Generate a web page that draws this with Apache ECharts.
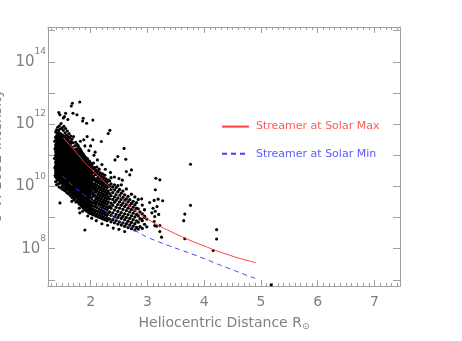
<!DOCTYPE html>
<html lang="en">
<head>
<meta charset="UTF-8">
<title>O VI 1032 Intensity</title>
<script src="https://cdn.jsdelivr.net/npm/echarts@6/dist/echarts.min.js"></script>
<style>
  html, body { margin: 0; padding: 0; background: #fff; }
  #chart { width: 462px; height: 341px; }
</style>
</head>
<body>
<div id="chart"></div>
<script>
// observed intensities, grouped by distance: [r, [log10 I, ...]]
// dense core of the cloud
var obsCore = [
  [1.390, [10.31, 10.43, 10.52, 10.66, 10.77, 10.88, 11.0, 11.11, 11.24, 11.33, 11.46, 11.58]],
  [1.415, [10.26, 10.37, 10.49, 10.6, 10.71, 10.84, 10.93, 11.06, 11.18, 11.29, 11.41, 11.53, 11.66]],
  [1.440, [10.21, 10.34, 10.45, 10.56, 10.68, 10.79, 10.91, 11.03, 11.14, 11.26, 11.37, 11.5, 11.61, 11.72]],
  [1.465, [10.18, 10.29, 10.41, 10.53, 10.64, 10.76, 10.87, 10.99, 11.1, 11.22, 11.34, 11.45, 11.57, 11.69]],
  [1.490, [10.14, 10.26, 10.38, 10.49, 10.61, 10.72, 10.84, 10.95, 11.07, 11.19, 11.3, 11.42, 11.54, 11.65]],
  [1.515, [10.1, 10.22, 10.33, 10.45, 10.57, 10.68, 10.8, 10.91, 11.03, 11.15, 11.26, 11.38, 11.5, 11.62]],
  [1.540, [10.07, 10.18, 10.3, 10.42, 10.53, 10.65, 10.77, 10.88, 11.0, 11.11, 11.23, 11.35, 11.46, 11.57]],
  [1.565, [10.02, 10.14, 10.26, 10.37, 10.49, 10.61, 10.72, 10.84, 10.96, 11.07, 11.19, 11.3, 11.42, 11.53]],
  [1.590, [9.98, 10.1, 10.21, 10.33, 10.45, 10.56, 10.68, 10.8, 10.91, 11.03, 11.15, 11.26, 11.38, 11.49]],
  [1.615, [9.94, 10.05, 10.17, 10.29, 10.4, 10.52, 10.64, 10.75, 10.87, 10.99, 11.1, 11.22, 11.34, 11.44]],
  [1.640, [9.89, 10.01, 10.13, 10.24, 10.36, 10.48, 10.59, 10.71, 10.83, 10.94, 11.06, 11.18, 11.29, 11.38]],
  [1.665, [9.85, 9.96, 10.08, 10.2, 10.31, 10.43, 10.55, 10.66, 10.78, 10.9, 11.01, 11.13, 11.25]],
  [1.690, [9.8, 9.92, 10.04, 10.15, 10.27, 10.39, 10.5, 10.62, 10.74, 10.85, 10.97, 11.09, 11.19]],
  [1.715, [9.76, 9.87, 9.99, 10.11, 10.22, 10.34, 10.46, 10.57, 10.69, 10.81, 10.92, 11.04, 11.13]],
  [1.740, [9.71, 9.83, 9.95, 10.06, 10.18, 10.3, 10.41, 10.53, 10.65, 10.76, 10.88, 10.99, 11.07]],
  [1.765, [9.67, 9.78, 9.9, 10.02, 10.13, 10.25, 10.37, 10.48, 10.6, 10.72, 10.83, 10.95, 11.02]],
  [1.778, [9.52, 9.66, 9.79, 9.93, 10.05, 10.21, 10.33, 10.47, 10.6, 10.74, 10.86, 11.01, 11.15, 11.3]],
  [1.796, [9.47, 9.58, 9.74, 9.87, 9.99, 10.14, 10.27, 10.42, 10.53, 10.69, 10.81, 10.95, 11.08, 11.22]],
  [1.814, [9.43, 9.55, 9.69, 9.83, 9.96, 10.08, 10.24, 10.36, 10.5, 10.63, 10.77, 10.9, 11.04, 11.19]],
  [1.832, [9.4, 9.52, 9.66, 9.78, 9.92, 10.04, 10.18, 10.31, 10.44, 10.58, 10.72, 10.85, 10.98, 11.12]],
  [1.850, [9.36, 9.49, 9.61, 9.75, 9.87, 10.01, 10.13, 10.27, 10.4, 10.53, 10.67, 10.8, 10.93, 11.07]],
  [1.868, [9.33, 9.45, 9.57, 9.71, 9.84, 9.97, 10.1, 10.22, 10.36, 10.49, 10.62, 10.75, 10.88, 11.03]],
  [1.886, [9.3, 9.42, 9.55, 9.68, 9.8, 9.93, 10.06, 10.19, 10.32, 10.45, 10.58, 10.71, 10.84, 10.97]],
  [1.904, [9.27, 9.39, 9.51, 9.64, 9.77, 9.9, 10.02, 10.15, 10.28, 10.41, 10.54, 10.66, 10.8, 10.93]],
  [1.922, [9.24, 9.36, 9.48, 9.61, 9.74, 9.86, 9.99, 10.12, 10.24, 10.37, 10.5, 10.62, 10.76]],
  [1.940, [9.21, 9.33, 9.46, 9.58, 9.71, 9.83, 9.96, 10.08, 10.21, 10.34, 10.46, 10.59, 10.72, 10.88]],
  [1.958, [9.19, 9.31, 9.43, 9.55, 9.68, 9.8, 9.93, 10.05, 10.18, 10.3, 10.43, 10.55, 10.68]],
  [1.976, [9.16, 9.28, 9.4, 9.53, 9.65, 9.77, 9.9, 10.02, 10.14, 10.27, 10.39, 10.52, 10.64, 10.8]],
  [1.994, [9.14, 9.26, 9.38, 9.5, 9.62, 9.75, 9.87, 9.99, 10.11, 10.24, 10.36, 10.48, 10.61, 10.74]]
];

// looser part of the cloud
var obsOuter = [
  [2.012, [9.12, 9.3, 9.49, 9.63, 9.85, 10.02, 10.15, 10.37, 10.52, 10.7]],
  [2.031, [9.2, 9.38, 9.55, 9.76, 9.92, 10.1, 10.28, 10.45, 10.63]],
  [2.05, [9.09, 9.26, 9.47, 9.68, 9.8, 10.0, 10.21, 10.33, 10.56, 10.75]],
  [2.07, [9.15, 9.35, 9.52, 9.71, 9.9, 10.07, 10.25, 10.44, 10.6]],
  [2.09, [9.05, 9.22, 9.43, 9.6, 9.82, 9.97, 10.16, 10.38, 10.51]],
  [2.11, [9.11, 9.31, 9.5, 9.66, 9.86, 10.04, 10.22, 10.41, 10.62]],
  [2.13, [9.02, 9.19, 9.39, 9.57, 9.74, 9.93, 10.12, 10.29, 10.47]],
  [2.15, [9.08, 9.27, 9.45, 9.63, 9.81, 9.99, 10.18, 10.36, 10.55]],
  [2.17, [8.99, 9.16, 9.35, 9.53, 9.7, 9.89, 10.08, 10.25, 10.43]],
  [2.19, [9.05, 9.23, 9.42, 9.6, 9.78, 9.96, 10.14, 10.32]],
  [2.21, [8.96, 9.13, 9.31, 9.49, 9.67, 9.85, 10.03, 10.21, 10.4]],
  [2.23, [9.02, 9.2, 9.38, 9.56, 9.74, 9.92, 10.1, 10.28]],
  [2.25, [8.93, 9.1, 9.28, 9.46, 9.64, 9.82, 9.99, 10.17, 10.36]],
  [2.27, [8.99, 9.17, 9.35, 9.53, 9.71, 9.88, 10.06, 10.24]],
  [2.29, [8.9, 9.07, 9.25, 9.43, 9.61, 9.78, 9.96, 10.13]],
  [2.31, [8.96, 9.14, 9.32, 9.5, 9.67, 9.85, 10.03, 10.2]],
  [2.335, [8.95, 9.18, 9.36, 9.6, 9.77, 10.0, 10.18]],
  [2.36, [8.86, 9.07, 9.3, 9.46, 9.7, 9.9, 10.08, 10.28]],
  [2.39, [8.93, 9.15, 9.39, 9.58, 9.8, 9.98]],
  [2.42, [8.83, 9.02, 9.24, 9.49, 9.66, 9.88, 10.05]],
  [2.45, [8.9, 9.1, 9.33, 9.55, 9.74, 9.96]],
  [2.48, [8.79, 9.0, 9.2, 9.42, 9.62, 9.83, 10.02]],
  [2.51, [8.86, 9.08, 9.3, 9.5, 9.7, 9.9]],
  [2.54, [8.76, 8.97, 9.16, 9.39, 9.58, 9.78, 10.05]],
  [2.57, [8.83, 9.04, 9.26, 9.46, 9.65, 9.85]],
  [2.60, [8.72, 8.93, 9.12, 9.35, 9.55, 9.73]],
  [2.63, [8.8, 9.0, 9.22, 9.42, 9.6, 9.92]],
  [2.66, [8.68, 8.88, 9.09, 9.3, 9.5, 9.68]],
  [2.69, [8.76, 8.97, 9.18, 9.38, 9.57]],
  [2.72, [8.64, 8.84, 9.05, 9.26, 9.45, 9.75]],
  [2.75, [8.72, 8.93, 9.14, 9.33, 9.52]],
  [2.78, [8.6, 8.8, 9.02, 9.22, 9.41, 9.66]],
  [2.81, [8.68, 8.89, 9.1, 9.3, 9.48]],
  [2.84, [8.63, 8.85, 9.05, 9.28, 9.58]],
  [2.87, [8.71, 8.96, 9.18]],
  [2.91, [8.65, 8.9, 9.12, 9.4]],
  [2.95, [8.78, 9.04, 9.25]],
  [2.99, [8.7, 8.95]]
];

// isolated points and cloud edges: [r, log10 I]
var obsSparse = [
  [1.385, 11.75], [1.40, 11.82], [1.42, 11.9], [1.435, 11.8], [1.45, 11.95], [1.47, 11.85],
  [1.48, 12.02], [1.50, 11.88], [1.52, 11.8], [1.53, 11.93], [1.55, 11.72], [1.56, 11.86],
  [1.575, 11.65], [1.59, 11.78], [1.60, 11.6], [1.62, 11.7], [1.635, 11.55], [1.65, 11.62],
  [1.66, 11.45], [1.675, 11.52], [1.69, 11.4], [1.70, 11.6], [1.72, 11.3], [1.735, 11.42],
  [1.75, 11.2], [1.76, 11.35],
  [1.385, 10.15], [1.40, 10.05], [1.41, 10.2], [1.43, 10.08], [1.445, 9.98], [1.46, 10.1],
  [1.475, 9.95], [1.50, 10.02], [1.51, 9.9], [1.53, 9.97], [1.545, 9.86], [1.56, 9.92],
  [1.58, 9.8], [1.595, 9.88], [1.61, 9.76], [1.63, 9.82], [1.645, 9.7], [1.66, 9.75],
  [1.675, 9.64], [1.69, 9.68], [1.705, 9.57], [1.725, 9.62], [1.74, 9.5], [1.76, 9.55],
  [1.37, 10.6], [1.365, 10.9], [1.372, 11.2], [1.375, 10.35], [1.368, 11.45],
  [1.82, 11.45], [1.90, 11.3], [1.97, 11.15], [2.06, 11.0], [2.12, 10.85], [2.20, 10.7],
  [2.26, 10.55], [2.35, 10.45], [2.42, 10.3], [2.50, 10.25], [2.56, 10.2],
  [1.80, 9.3], [1.86, 9.2], [1.95, 9.05], [2.02, 8.98], [2.10, 8.9], [2.20, 8.8],
  [2.30, 8.75], [2.40, 8.66], [2.50, 8.62], [2.60, 8.55],
  [1.66, 12.58], [1.68, 12.67], [1.81, 12.71], [1.44, 12.37], [1.54, 12.24],
  [1.69, 12.35], [1.87, 12.19], [2.04, 12.13], [1.93, 12.03], [2.19, 11.44],
  [2.31, 11.7], [2.34, 11.8], [2.48, 10.96], [2.59, 11.22], [2.43, 10.85],
  [2.62, 10.87], [2.72, 10.53], [2.63, 10.48], [2.69, 10.37], [1.56, 12.35],
  [1.76, 12.3], [1.86, 12.1], [1.94, 11.6], [2.04, 11.5], [2.0, 11.3],
  [1.60, 12.15], [1.52, 12.2], [1.46, 12.3], [1.88, 11.5], [2.08, 11.1],
  [3.76, 10.71], [3.76, 9.39], [3.66, 9.11], [3.64, 8.9], [3.66, 8.32],
  [4.22, 8.61], [4.22, 8.31], [4.16, 7.94],
  [3.15, 10.26], [3.22, 10.21], [3.14, 9.89], [2.90, 9.6], [3.04, 9.48],
  [3.12, 9.55], [3.19, 9.59], [3.27, 9.54], [3.10, 9.3], [3.14, 9.2],
  [3.17, 9.35], [3.20, 9.1], [3.08, 9.15], [3.13, 9.03], [3.12, 8.87],
  [3.13, 8.74], [3.16, 8.72], [3.22, 8.74], [3.22, 8.55], [3.25, 8.37],
  [2.90, 8.95], [2.95, 9.0], [1.46, 9.47], [1.67, 9.52], [1.81, 9.15],
  [1.90, 8.6], [2.04, 9.09], [5.18, 6.84]
];

// model curves
var maxR   = [1.52, 1.6, 1.7, 1.8, 1.9, 2.0, 2.2, 2.4, 2.6, 2.8, 3.0, 3.2, 3.4, 3.6, 3.8, 4.0, 4.2, 4.4, 4.6, 4.8, 4.91];
var maxLog = [11.57, 11.40, 11.19, 10.97, 10.76, 10.58, 10.22, 9.87, 9.52, 9.20, 8.95, 8.74, 8.56, 8.39, 8.23, 8.09, 7.94, 7.82, 7.70, 7.60, 7.55];
var minR   = [1.50, 1.6, 1.7, 1.8, 1.9, 2.0, 2.2, 2.4, 2.6, 2.8, 3.0, 3.2, 3.4, 3.6, 3.8, 4.0, 4.2, 4.4, 4.6, 4.8, 4.9];
var minLog = [10.34, 10.17, 10.00, 9.85, 9.71, 9.58, 9.29, 9.02, 8.78, 8.56, 8.37, 8.22, 8.08, 7.95, 7.82, 7.68, 7.53, 7.39, 7.25, 7.11, 7.05];

// axis ticks
var xMajor = [2, 3, 4, 5, 6, 7];
var xMinor = [];
for (var k = 13; k <= 74; k++) xMinor.push(k / 10);
var yTicks = [1e7, 1e8, 1e9, 1e10, 1e11, 1e12, 1e13, 1e14, 1e15];
var yLabels = [1e8, 1e10, 1e12, 1e14];

var gray = '#808080';
var lineGray = '#a0a0a0';
var font = 'DejaVu Sans';

function columnsToPoints(cols) {
    var out = [];
    cols.forEach(function (col) {
        col[1].forEach(function (lg) { out.push([col[0], Math.pow(10, lg)]); });
    });
    return out;
}

function curve(rs, logs) {
    return rs.map(function (r, i) { return [r, Math.pow(10, logs[i])]; });
}

function xAxisDef(pos, ticks, len, labels) {
    return {
        type: 'value', position: pos, min: 1.25, max: 7.45,
        axisLine: { show: true, lineStyle: { color: lineGray } },
        splitLine: { show: false },
        axisTick: { show: true, inside: true, length: len, customValues: ticks, lineStyle: { color: lineGray } },
        axisLabel: labels ? {
            show: true, customValues: labels, margin: 9, color: gray,
            fontSize: 14, fontFamily: font
        } : { show: false }
    };
}

function yAxisDef(pos, labels) {
    return {
        type: 'log', logBase: 10, position: pos,
        min: Math.pow(10, 6.8), max: Math.pow(10, 15.12),
        axisLine: { show: true, lineStyle: { color: lineGray } },
        splitLine: { show: false },
        minorTick: { show: false },
        axisTick: { show: true, inside: true, length: 7, customValues: yTicks, lineStyle: { color: lineGray } },
        axisLabel: labels ? {
            show: true, customValues: yLabels, margin: 2,
            formatter: function (v) {
                return '{b|10}{s|' + Math.round(Math.log10(v)) + '}';
            },
            rich: {
                b: { fontSize: 15, color: gray, fontFamily: font, padding: [7, 0, 7, 0] },
                s: { fontSize: 9, color: gray, fontFamily: font, verticalAlign: 'top', lineHeight: 11 }
            }
        } : { show: false }
    };
}

function dots(name, data, size) {
    return {
        name: name, type: 'scatter', xAxisIndex: 0, yAxisIndex: 0,
        symbol: 'circle', symbolSize: size,
        itemStyle: { color: '#000', opacity: 1 },
        data: data, z: 2
    };
}

var chart = echarts.init(document.getElementById('chart'), null, { renderer: 'canvas' });

var yLeft = yAxisDef('left', true);
yLeft.name = 'O VI 1032 Intensity';
yLeft.nameLocation = 'middle';
yLeft.nameGap = 37;
yLeft.nameTextStyle = { color: gray, fontSize: 14, fontFamily: font };

var xMain = xAxisDef('bottom', xMajor, 6, xMajor);
xMain.name = '{t|Heliocentric Distance R}{o|\u2299}';
xMain.nameLocation = 'middle';
xMain.nameGap = 30;
xMain.nameTextStyle = {
    rich: {
        t: { color: gray, fontSize: 14, fontFamily: font },
        o: { color: gray, fontSize: 9, fontFamily: font, padding: [6, 0, 0, 0] }
    }
};

chart.setOption({
    animation: false,
    backgroundColor: '#fff',
    grid: { left: 48, right: 62, top: 27, bottom: 55, containLabel: false, outerBoundsMode: 'none' },
    legend: {
        orient: 'vertical', left: 216, top: 116,
        itemWidth: 27, itemHeight: 14, itemGap: 16,
        itemStyle: { opacity: 0 },
        textStyle: { fontSize: 11, fontFamily: font, padding: [0, 0, 0, 2] },
        data: [
            { name: 'Streamer at Solar Max', textStyle: { color: '#ff5a5a' } },
            { name: 'Streamer at Solar Min', textStyle: { color: '#5a5aff' } }
        ]
    },
    xAxis: [
        xMain,
        xAxisDef('bottom', xMinor, 3, null),
        xAxisDef('top', xMajor, 6, null),
        xAxisDef('top', xMinor, 3, null)
    ],
    yAxis: [yLeft, yAxisDef('right', null)],
    series: [
        dots('core', columnsToPoints(obsCore), 3.8),
        dots('outer', columnsToPoints(obsOuter), 3.3),
        dots('sparse', curve(obsSparse.map(function (p) { return p[0]; }),
                             obsSparse.map(function (p) { return p[1]; })), 3.1),
        {
            name: 'Streamer at Solar Max', type: 'line', xAxisIndex: 0, yAxisIndex: 0,
            showSymbol: false, symbol: 'none', smooth: true,
            lineStyle: { color: '#ff4040', width: 1 },
            itemStyle: { color: '#ff4040' },
            data: curve(maxR, maxLog), z: 3
        },
        {
            name: 'Streamer at Solar Min', type: 'line', xAxisIndex: 0, yAxisIndex: 0,
            showSymbol: false, symbol: 'none', smooth: true,
            lineStyle: { color: '#4040ff', width: 1, type: [5, 4] },
            itemStyle: { color: '#4040ff' },
            data: curve(minR, minLog), z: 3
        }
    ]
});
</script>
</body>
</html>
